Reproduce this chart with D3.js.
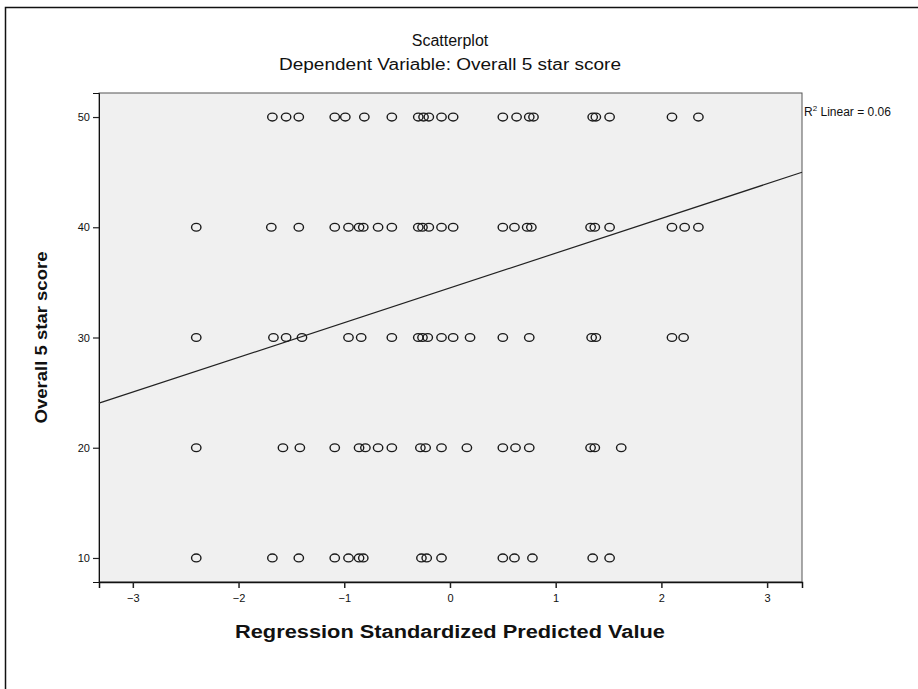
<!DOCTYPE html>
<html>
<head>
<meta charset="utf-8">
<script src="https://cdn.jsdelivr.net/npm/d3@7/dist/d3.min.js"></script>
<style>
  html, body { margin: 0; padding: 0; background: #ffffff; }
  svg { display: block; font-family: "Liberation Sans", Arial, sans-serif; }
</style>
</head>
<body>
<svg id="chart" width="918" height="689"></svg>
<script>
// ---- Data ----
const titleText = "Scatterplot";
const subtitleText = "Dependent Variable: Overall 5 star score";
const xTitle = "Regression Standardized Predicted Value";
const yTitle = "Overall 5 star score";
const r2Label = "Linear = 0.06";

const xTicks = [-3, -2, -1, 0, 1, 2, 3];
const yTicks = [10, 20, 30, 40, 50];

// Standardized predicted values for each observed score level
const score50 = [-1.68, -1.55, -1.43, -1.09, -0.99, -0.81, -0.55, -0.30, -0.25, -0.20, -0.08, 0.03, 0.50, 0.63, 0.75, 0.79, 1.35, 1.38, 1.51, 2.10, 2.35];
const score40 = [-2.40, -1.69, -1.43, -1.09, -0.96, -0.86, -0.82, -0.68, -0.55, -0.30, -0.26, -0.20, -0.08, 0.03, 0.50, 0.61, 0.73, 0.77, 1.33, 1.37, 1.51, 2.10, 2.22, 2.35];
const score30 = [-2.40, -1.67, -1.55, -1.40, -0.96, -0.84, -0.55, -0.30, -0.26, -0.21, -0.08, 0.03, 0.19, 0.50, 0.75, 1.34, 1.38, 2.10, 2.21];
const score20 = [-2.40, -1.58, -1.42, -1.09, -0.86, -0.80, -0.68, -0.55, -0.28, -0.23, -0.08, 0.16, 0.50, 0.62, 0.75, 1.33, 1.37, 1.62];
const score10 = [-2.40, -1.68, -1.43, -1.09, -0.96, -0.86, -0.82, -0.27, -0.22, -0.08, 0.50, 0.61, 0.78, 1.35, 1.51];

// Linear fit line (intercept, slope)
const fitIntercept = 34.5;
const fitSlope = 3.15;

// ---- Build point table ----
const rows = [
  { score: 50, xs: score50 },
  { score: 40, xs: score40 },
  { score: 30, xs: score30 },
  { score: 20, xs: score20 },
  { score: 10, xs: score10 }
];
const points = [];
rows.forEach(r => r.xs.forEach(x => points.push({ x: x, y: r.score })));

// ---- Layout ----
const svg = d3.select("#chart");
const plot = { left: 99, right: 802, top: 93, bottom: 582 };

const x = d3.scaleLinear().domain([-3.32, 3.33]).range([plot.left, plot.right]);
const y = d3.scaleLinear().domain([7.82, 52.18]).range([plot.bottom, plot.top]);

// outer frame
svg.append("path")
  .attr("d", `M5.5,689 L5.5,7.5 L918,7.5`)
  .attr("fill", "none").attr("stroke", "#111").attr("stroke-width", 1.5);

// titles
svg.append("text").attr("x", 450).attr("y", 46).attr("text-anchor", "middle")
  .attr("font-size", 16).attr("fill", "#111").text(titleText);
svg.append("text").attr("x", 450).attr("y", 70).attr("text-anchor", "middle")
  .attr("font-size", 16).attr("fill", "#111")
  .attr("textLength", 342).attr("lengthAdjust", "spacingAndGlyphs").text(subtitleText);

// plot background
svg.append("rect")
  .attr("x", plot.left).attr("y", plot.top)
  .attr("width", plot.right - plot.left).attr("height", plot.bottom - plot.top)
  .attr("fill", "#f0f0f0").attr("stroke", "#555").attr("stroke-width", 1);

// axes
const xAxis = d3.axisBottom(x).tickValues(xTicks).tickSize(6).tickPadding(6)
  .tickFormat(d3.format("d"));
const gx = svg.append("g").attr("transform", `translate(0,${plot.bottom})`).call(xAxis);
gx.select(".domain").attr("stroke", "#111").attr("stroke-width", 1.5);
gx.selectAll(".tick line").attr("stroke", "#222").attr("stroke-width", 1.5);
gx.selectAll(".tick text").attr("font-size", 11).attr("fill", "#111")
  .attr("font-family", "Liberation Sans, Arial, sans-serif");

const yAxis = d3.axisLeft(y).tickValues(yTicks).tickSize(6).tickPadding(3)
  .tickFormat(d3.format("d"));
const gy = svg.append("g").attr("transform", `translate(${plot.left},0)`).call(yAxis);
gy.select(".domain").attr("stroke", "#111").attr("stroke-width", 1);
gy.selectAll(".tick line").attr("stroke", "#222").attr("stroke-width", 1.2);
gy.selectAll(".tick text").attr("font-size", 11).attr("fill", "#111")
  .attr("font-family", "Liberation Sans, Arial, sans-serif");

// fit line
const [dx0, dx1] = x.domain();
svg.append("line")
  .attr("x1", x(dx0)).attr("y1", y(fitIntercept + fitSlope * dx0))
  .attr("x2", x(dx1)).attr("y2", y(fitIntercept + fitSlope * dx1))
  .attr("stroke", "#222").attr("stroke-width", 1.2);

// points
svg.append("g").selectAll("ellipse").data(points).join("ellipse")
  .attr("cx", d => x(d.x)).attr("cy", d => y(d.y))
  .attr("rx", 4.7).attr("ry", 3.9)
  .attr("fill", "none").attr("stroke", "#1a1a1a").attr("stroke-width", 1.4);

// R² label
const r2 = svg.append("text").attr("x", 804).attr("y", 116)
  .attr("font-size", 12).attr("fill", "#111");
r2.append("tspan").text("R");
r2.append("tspan").attr("font-size", 8).attr("dy", -5).text("2");
r2.append("tspan").attr("dy", 5).text(" " + r2Label);

// axis titles
svg.append("text").attr("x", 450).attr("y", 638).attr("text-anchor", "middle")
  .attr("font-size", 18).attr("font-weight", "bold").attr("fill", "#111")
  .attr("textLength", 430).attr("lengthAdjust", "spacingAndGlyphs").text(xTitle);
svg.append("text")
  .attr("transform", `translate(47,${(plot.top + plot.bottom) / 2}) rotate(-90)`)
  .attr("text-anchor", "middle")
  .attr("font-size", 17).attr("font-weight", "bold").attr("fill", "#111")
  .attr("textLength", 172).attr("lengthAdjust", "spacingAndGlyphs").text(yTitle);
</script>
</body>
</html>
